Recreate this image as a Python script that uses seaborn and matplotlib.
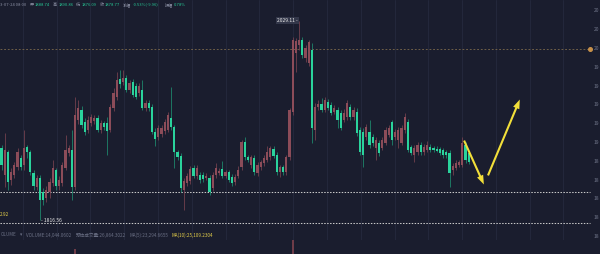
import numpy as np
import pandas as pd
import matplotlib
matplotlib.use("Agg")
import matplotlib.pyplot as plt
import seaborn as sns
from matplotlib.patches import FancyArrowPatch

# ---------------- data ----------------
OPEN = [1893.6, 1864.9, 1889.3, 1859.6, 1864.9, 1873.4, 1883.0, 1875.5, 1894.7, 1889.3,
        1867.0, 1852.1, 1861.7, 1846.8, 1840.4, 1846.8, 1856.4, 1870.2, 1853.2, 1856.4,
        1872.3, 1888.3, 1891.5, 1852.1, 1923.4, 1934.0, 1921.3, 1912.8, 1920.2, 1922.3,
        1925.5, 1912.8, 1920.2, 1920.2, 1912.8, 1936.2, 1947.9, 1967.0, 1963.8, 1968.1,
        1955.3, 1963.8, 1959.6, 1952.1, 1955.3, 1936.2, 1941.5, 1937.2, 1910.6, 1905.3,
        1908.5, 1911.7, 1912.8, 1925.5, 1915.9, 1889.3, 1885.1, 1848.9, 1856.4, 1858.5,
        1872.3, 1863.8, 1864.9, 1864.9, 1861.7, 1861.7, 1851.0, 1864.9, 1867.0, 1871.3,
        1863.8, 1868.1, 1862.8, 1857.4, 1863.8, 1873.4, 1900.0, 1884.0, 1875.5, 1883.0,
        1867.0, 1873.4, 1877.6, 1880.8, 1884.0, 1892.5, 1886.1, 1868.1, 1873.4, 1868.1,
        1884.0, 1931.9, 1994.7, 2003.2, 2008.5, 1989.4, 1984.0, 1997.9, 1912.8, 1937.2,
        1940.4, 1934.0, 1942.5, 1939.4, 1931.9, 1934.0, 1930.8, 1923.4, 1926.6, 1937.2,
        1926.6, 1931.9, 1912.8, 1910.6, 1905.3, 1910.6, 1905.3, 1893.6, 1898.9, 1893.6,
        1898.9, 1907.4, 1921.3, 1905.3, 1902.1, 1898.9, 1912.8, 1921.3, 1894.7, 1886.1,
        1889.3, 1896.8, 1889.3, 1891.5, 1894.7, 1893.6, 1892.5, 1892.5, 1891.5, 1889.3,
        1888.3, 1870.2, 1872.3, 1875.5, 1875.5, 1896.8, 1888.74]
HIGH = [1896.8, 1909.6, 1891.5, 1872.3, 1878.7, 1893.6, 1886.1, 1912.8, 1896.8, 1891.5,
        1870.2, 1864.9, 1864.9, 1851.0, 1853.2, 1861.7, 1880.8, 1872.3, 1863.8, 1878.7,
        1907.4, 1896.8, 1912.8, 1947.9, 1944.7, 1938.3, 1925.5, 1927.6, 1929.8, 1928.7,
        1928.7, 1923.4, 1922.3, 1926.6, 1940.4, 1957.4, 1974.5, 1976.6, 1976.6, 1971.3,
        1966.0, 1967.0, 1962.8, 1962.8, 1966.0, 1944.7, 1944.7, 1940.4, 1914.9, 1918.1,
        1918.1, 1924.4, 1931.9, 1958.5, 1918.1, 1891.5, 1888.3, 1861.7, 1867.0, 1874.5,
        1875.5, 1875.5, 1868.1, 1868.1, 1867.0, 1864.9, 1868.1, 1877.6, 1872.3, 1879.8,
        1870.2, 1870.2, 1865.9, 1865.9, 1874.5, 1902.1, 1905.3, 1886.1, 1886.1, 1886.1,
        1878.7, 1880.8, 1886.1, 1895.7, 1895.7, 1895.7, 1889.3, 1875.5, 1875.5, 1886.1,
        1936.2, 2011.7, 2010.6, 2029.11, 2011.7, 2003.2, 2008.5, 2005.3, 1941.5, 1944.7,
        1946.8, 1947.9, 1945.7, 1942.5, 1939.4, 1937.2, 1934.0, 1935.1, 1944.7, 1940.4,
        1937.2, 1936.2, 1915.9, 1914.9, 1919.1, 1923.4, 1908.5, 1905.3, 1902.1, 1905.3,
        1915.9, 1918.1, 1923.4, 1913.8, 1915.9, 1918.1, 1930.8, 1924.4, 1896.8, 1896.8,
        1900.0, 1900.0, 1897.9, 1901.0, 1897.9, 1895.7, 1895.7, 1894.7, 1893.6, 1891.5,
        1891.5, 1877.6, 1880.8, 1880.8, 1905.3, 1900.0, 1890.86]
LOW = [1870.2, 1852.1, 1848.9, 1854.2, 1861.7, 1870.2, 1870.2, 1870.2, 1883.0, 1864.9,
       1848.9, 1848.9, 1816.56, 1832.9, 1836.1, 1840.4, 1853.2, 1848.9, 1848.9, 1853.2,
       1870.2, 1885.1, 1838.3, 1848.9, 1919.1, 1914.9, 1907.4, 1909.6, 1917.0, 1919.1,
       1910.6, 1909.6, 1912.8, 1886.1, 1910.6, 1933.0, 1944.7, 1957.4, 1960.6, 1953.2,
       1952.1, 1947.9, 1945.7, 1948.9, 1934.0, 1933.0, 1933.0, 1908.5, 1895.7, 1902.1,
       1905.3, 1908.5, 1910.6, 1912.8, 1872.3, 1880.8, 1846.8, 1827.6, 1853.2, 1855.3,
       1861.7, 1860.6, 1856.4, 1857.4, 1859.6, 1843.6, 1847.9, 1861.7, 1864.9, 1861.7,
       1861.7, 1857.4, 1853.2, 1854.2, 1861.7, 1870.2, 1880.8, 1878.7, 1872.3, 1864.9,
       1863.8, 1870.2, 1874.5, 1878.7, 1880.8, 1883.0, 1864.9, 1862.8, 1864.9, 1864.9,
       1880.8, 1928.7, 1974.5, 1997.9, 1989.4, 1985.1, 1980.9, 1898.9, 1902.1, 1934.0,
       1931.9, 1931.9, 1934.0, 1928.7, 1929.8, 1914.9, 1912.8, 1921.3, 1923.4, 1923.4,
       1923.4, 1906.4, 1886.1, 1873.4, 1902.1, 1893.6, 1895.7, 1880.8, 1885.1, 1891.5,
       1896.8, 1905.3, 1896.8, 1902.1, 1893.6, 1896.8, 1909.6, 1889.3, 1886.1, 1878.7,
       1886.1, 1886.1, 1886.1, 1889.3, 1889.3, 1889.3, 1889.3, 1886.1, 1883.0, 1883.0,
       1852.1, 1864.9, 1870.2, 1873.4, 1873.4, 1877.6, 1876.09]
CLOSE = [1875.5, 1891.5, 1857.4, 1868.1, 1875.5, 1889.3, 1873.4, 1893.6, 1889.3, 1868.1,
         1853.2, 1861.7, 1838.3, 1838.3, 1848.9, 1857.4, 1872.3, 1853.2, 1859.6, 1875.5,
         1891.5, 1893.6, 1852.1, 1928.7, 1936.2, 1918.1, 1910.6, 1923.4, 1926.6, 1925.5,
         1912.8, 1920.2, 1915.9, 1911.7, 1937.2, 1952.1, 1966.0, 1961.7, 1968.1, 1955.3,
         1962.8, 1950.0, 1947.9, 1959.6, 1936.2, 1941.5, 1936.2, 1910.6, 1903.2, 1914.9,
         1914.9, 1921.3, 1928.7, 1915.9, 1889.3, 1884.0, 1851.0, 1858.5, 1863.8, 1871.3,
         1863.8, 1872.3, 1859.6, 1860.6, 1863.8, 1846.8, 1864.9, 1872.3, 1869.1, 1863.8,
         1868.1, 1859.6, 1856.4, 1862.8, 1870.2, 1900.0, 1884.0, 1880.8, 1884.0, 1868.1,
         1875.5, 1878.7, 1883.0, 1889.3, 1893.6, 1885.1, 1868.1, 1873.4, 1868.1, 1884.0,
         1934.0, 2008.5, 2007.4, 2008.5, 1992.6, 2000.0, 2006.4, 1914.9, 1937.2, 1940.4,
         1934.0, 1944.7, 1936.2, 1930.8, 1936.2, 1923.4, 1914.9, 1930.8, 1941.5, 1926.6,
         1934.0, 1909.6, 1889.3, 1886.1, 1915.9, 1896.8, 1898.9, 1902.1, 1888.3, 1902.1,
         1912.8, 1914.9, 1902.1, 1910.6, 1912.8, 1914.9, 1926.6, 1891.5, 1888.3, 1893.6,
         1896.8, 1889.3, 1894.7, 1896.8, 1891.5, 1891.5, 1890.4, 1888.3, 1886.1, 1886.1,
         1867.0, 1874.5, 1877.6, 1878.7, 1898.9, 1880.8, 1878.77]
VOLUME = [32000, 41000, 38000, 27000, 22000, 29000, 24000, 36000, 21000, 26000,
          31000, 23000, 58000, 34000, 25000, 22000, 30000, 27000, 19000, 24000,
          35000, 18000, 62000, 106500, 41000, 33000, 28000, 24000, 17000, 15000,
          22000, 19000, 16000, 33000, 39000, 44000, 52000, 31000, 26000, 28000,
          22000, 25000, 20000, 19000, 34000, 17000, 15000, 38000, 29000, 21000,
          16000, 18000, 24000, 47000, 45000, 19000, 51000, 46000, 23000, 20000,
          17000, 16000, 15000, 14000, 13000, 27000, 24000, 19000, 12000, 17000,
          13000, 15000, 16000, 14000, 18000, 43000, 30000, 16000, 15000, 22000,
          17000, 14000, 16000, 21000, 19000, 17000, 25000, 15000, 13000, 22000,
          78000, 117500, 69000, 88000, 54000, 41000, 47000, 92000, 56000, 33000,
          28000, 26000, 22000, 21000, 19000, 27000, 24000, 20000, 25000, 21000,
          18000, 31000, 36000, 39000, 29000, 27000, 19000, 23000, 21000, 18000,
          22000, 17000, 24000, 16000, 19000, 20000, 26000, 34000, 18000, 20000,
          15000, 14000, 13000, 14000, 12000, 11000, 12000, 13000, 14000, 15000,
          36000, 21000, 17000, 15000, 29000, 23000, 14044.06]

PRICE_TICKS = [1800, 1820, 1840, 1860, 1880, 1900, 1920, 1940, 1960, 1980, 2000, 2020, 2040]
# only the first two digits of each axis label are inside the picture
TICK_LABELS = ["18", "18", "18", "18", "18", "19", "19", "19", "19", "19", "20", "20", "20"]
ALERT_GOLD = 1998.9
ALERT_WHITE = [1846.8, 1813.8]
HIGH_LABEL = "2029.11"
LOW_LABEL = "1816.56"
LEFT_LABEL = "2.92"

HEADER = [("3-07-24 08:00", "gray"), ("开", "gray"), ("1888.74", "val"),
          ("高", "gray"), ("1890.86", "val"), ("低", "gray"), ("1876.09", "val"),
          ("收", "gray"), ("1878.77", "val"), ("涨幅", "gray"), ("-0.53%(-9.96)", "val"),
          ("振幅", "gray"), ("0.78%", "val")]
HEADER_GAPS = [3, 1.2, 3, 1.2, 3, 1.2, 3, 1.2, 3, 1.2, 6, 1.2, 0]
VOL_LEGEND = [("OLUME", "gray"), ("▾", "gray"), ("VOLUME:14,044.0602", "gray"),
              ("预估成交量:26,864.3022", "gray"), ("MA(5):23,294.6655", "gray"),
              ("MA(10):25,109.2304", "yellow")]
VOL_GAPS = [4, 4, 4, 3.5, 3.5, 0]

# arrows drawn on the chart (candle index, price)
ARROW_DOWN = [(144.2, 1904.2), (151.1, 1852.1)]
ARROW_UP = [(151.7, 1861.7), (162.3, 1947.9)]

# ---------------- style ----------------
BG = "#1a1d2e"
RED = "#8c4c59"
RED_WICK = "#7a4350"
GREEN = "#2ad39c"
GREEN_WICK = "#1f8f71"
GRID = "#252a3e"
TXT = "#6f7488"
YEL = "#f2df3a"

sns.set_theme(style="dark")
plt.rcParams["font.family"] = ["Noto Sans CJK SC", "DejaVu Sans"]

W, H = 600, 254
fig = plt.figure(figsize=(6, 2.54), dpi=100, facecolor=BG)

n = len(CLOSE)
idx = np.arange(n)
o = np.array(OPEN); c = np.array(CLOSE); hi = np.array(HIGH); lo = np.array(LOW)
up = c >= o

# price pane
px_per_bar = 3.2
x0_px = 1.5
ax_right_px = 592
xlim = ((0 - x0_px) / px_per_bar, (ax_right_px - x0_px) / px_per_bar)
ax = fig.add_axes([0, 1 - 240 / H, ax_right_px / W, 240 / H])
ax.set_facecolor(BG)
top_price = 2051.07
ax.set_ylim(top_price - 1.064 * 240, top_price)
ax.set_xlim(*xlim)

grid_x = np.arange(6.66, xlim[1], 10.56)
ax.set_xticks(grid_x)
ax.set_xticklabels([])
ax.set_yticks(PRICE_TICKS)
ax.set_yticklabels(TICK_LABELS)
ax.yaxis.tick_right()
ax.tick_params(axis="y", length=0, pad=1.3, labelsize=3.6, labelcolor=TXT)
ax.tick_params(axis="x", length=0)
ax.grid(False)
ax.xaxis.grid(True, color=GRID, lw=0.6)
for s in ax.spines.values():
    s.set_visible(False)

# candles
ax.vlines(idx, lo, hi, colors=np.where(up, RED_WICK, GREEN_WICK), lw=0.55, zorder=2)
body_bottom = np.minimum(o, c)
body_h = np.maximum(np.abs(c - o), 0.8)
ax.bar(idx, body_h, bottom=body_bottom, width=0.68,
       color=np.where(up, RED, GREEN), edgecolor="none", linewidth=0, zorder=3)

# alert lines
gold_end = (590 - x0_px) / px_per_bar
ax.hlines(ALERT_GOLD, xlim[0], gold_end, colors="#7d6a4c", lw=0.6,
          linestyles=(0, (2.2, 2.2)), zorder=1)
ax.plot([gold_end], [ALERT_GOLD], "o", ms=2.6, color="#c8914a", zorder=4)
for lvl in ALERT_WHITE:
    ax.hlines(lvl, xlim[0], gold_end, colors="#c9c9c9", lw=0.75,
              linestyles=(0, (1.4, 1.4)), zorder=1)

# high / low labels
ih = int(np.argmax(hi)); il = int(np.argmin(lo))
ax.text(ih - 0.4, hi[ih], HIGH_LABEL + " -", ha="right", va="center",
        fontsize=3.6, color="#e8e8e8",
        bbox=dict(boxstyle="square,pad=0.15", fc="#33374a", ec="none"), zorder=5)
ax.text(il + 0.4, lo[il], "- " + LOW_LABEL, ha="left", va="center",
        fontsize=3.6, color="#e8e8e8", zorder=5)

# arrows
for (a, b) in (ARROW_DOWN, ARROW_UP):
    arr = FancyArrowPatch(a, b, arrowstyle="simple,head_length=1.1,head_width=0.8,tail_width=0.25",
                          mutation_scale=6, color=YEL, lw=0, zorder=6)
    ax.add_patch(arr)

# volume pane (extends below the visible figure)
axv = fig.add_axes([0, 1 - 338 / H, ax_right_px / W, 100 / H])
axv.patch.set_alpha(0)
df = pd.DataFrame({"idx": idx, "vol": VOLUME,
                   "dir": np.where(up, "up", "down")})
sns.barplot(data=df, x="idx", y="vol", hue="dir",
            palette={"up": "#6e3c48", "down": "#1f7a62"},
            native_scale=True, dodge=False, width=0.68, saturation=1,
            errorbar=None, legend=False, edgecolor="none", linewidth=0, ax=axv)
axv.set_xlim(*xlim)
axv.set_ylim(0, 120000)
axv.set_axis_off()

# text rows laid out one after the other
fig.canvas.draw()
renderer = fig.canvas.get_renderer()


def put_row(items, gaps, x_start, ypx, fs, colors):
    x = x_start
    for (t, kind), g in zip(items, gaps):
        tx = fig.text(x / W, 1 - ypx / H, t, ha="left", va="center",
                      fontsize=fs, color=colors[kind])
        bb = tx.get_window_extent(renderer)
        x = bb.x1 + g


put_row(HEADER, HEADER_GAPS, 0.3, 4.5, 3.0, {"gray": "#8a8fa3", "val": "#27c795"})
put_row(VOL_LEGEND, VOL_GAPS, 0.3, 235, 3.3, {"gray": "#6b7085", "yellow": "#e6d04a"})
fig.text(0.3 / W, 1 - 215 / H, LEFT_LABEL, ha="left", va="center", fontsize=3.4,
         color="#e6d04a")

fig.savefig("out.png", dpi=100, facecolor=BG)
